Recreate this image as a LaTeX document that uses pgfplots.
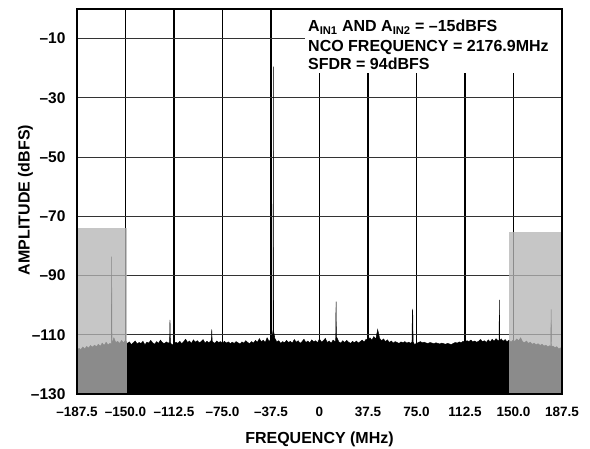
\documentclass[border=0pt]{standalone}
\usepackage{fontspec}
\setmainfont{Liberation Sans}
\usepackage{pgfplots}
\pgfplotsset{compat=1.18}
\begin{document}
\begin{tikzpicture}
\path[use as bounding box] (0,0) rectangle (590pt,448pt);
\begin{axis}[
  at={(77pt,54pt)}, anchor=south west,
  scale only axis, width=485pt, height=385pt,
  xmin=-187.5, xmax=187.5, ymin=-130, ymax=0,
  xtick={-187.5,-150,-112.5,-75,-37.5,0,37.5,75,112.5,150,187.5},
  xticklabels={–187.5,–150.0,–112.5,–75.0,–37.5,0,37.5,75.0,112.5,150.0,187.5},
  ytick={-130,-110,-90,-70,-50,-30,-10},
  yticklabels={–130,–110,–90,–70,–50,–30,–10},
  major tick length=0pt,
  xmajorgrids, ymajorgrids,
  x grid style={black, line width=1.9pt},
  y grid style={black!80, line width=1.1pt},
  axis line style={line width=1.4pt},
  xticklabel style={font=\fontsize{13.5}{16}\selectfont\bfseries, anchor=north, yshift=-10pt},
  yticklabel style={font=\fontsize{15.5}{18}\selectfont\bfseries, anchor=east, xshift=-8pt},
  clip=true,
]
% noise floor and spurs
\addplot[fill=black, draw=black, line width=0.4pt] table {
-187.5 -130
-187.5 -115.2
-186 -114.6
-184.5 -115.0
-183 -114.1
-181.5 -114.8
-180 -113.9
-178.5 -114.5
-177 -113.6
-175.5 -114.2
-174 -113.5
-172.5 -114.0
-171 -113.2
-169.5 -113.9
-168 -112.8
-166.5 -113.6
-165 -112.5
-163.5 -113.4
-162 -112.9
-161.0 -113.0
-160.7 -83.6
-160.4 -113.0
-159 -111.0
-157.5 -112.6
-156 -112.2
-154.5 -112.9
-153 -111.9
-151.5 -112.7
-150 -111.8
-148.5 -113.0
-147 -112.4
-145.5 -113.3
-144 -112.7
-142.5 -112.1
-141 -113.1
-139.5 -112.6
-138 -112.9
-136.5 -112.2
-135 -113.4
-133.5 -112.5
-132 -112.8
-130.5 -111.9
-129 -112.7
-127.5 -113.2
-126 -112.3
-124.5 -112.9
-123 -111.8
-121.5 -112.6
-120 -113.0
-118.5 -112.4
-117 -112.8
-115.9 -112.6
-115.6 -105.0
-115.3 -112.7
-114 -113.4
-112.5 -113.1
-111 -112.5
-109.5 -112.9
-108 -112.2
-106.5 -113.0
-105 -112.3
-103.5 -111.5
-102 -112.6
-100.5 -112.1
-99 -112.9
-97.5 -111.7
-96 -112.5
-94.5 -112.0
-93 -112.7
-91.5 -112.3
-90 -111.6
-88.5 -112.8
-87 -112.2
-85.5 -112.7
-84 -112.0
-83.6 -112.0
-83.3 -108.2
-83.0 -112.0
-82.5 -112.4
-81 -112.9
-79.5 -112.1
-78 -112.6
-76.5 -112.3
-75 -112.9
-73.5 -112.2
-72 -112.8
-70.5 -112.4
-69 -113.0
-67.5 -112.5
-66 -112.9
-64.5 -112.3
-63 -112.7
-61.5 -113.1
-60 -112.4
-58.5 -112.8
-57 -112.0
-55.5 -112.6
-54 -113.0
-52.5 -112.3
-51 -112.8
-49.5 -111.9
-48 -112.5
-46.5 -111.3
-45 -112.4
-43.5 -111.8
-42 -112.6
-40.5 -111.0
-39 -112.2
-37.5 -111.5
-36.5 -110.5
-36.0 -108.6
-35.9 -112.0
-35.7 -19.5
-35.5 -112.0
-35.2 -109.5
-34.5 -111.2
-33 -112.4
-31.5 -112.0
-30 -112.9
-28.5 -112.3
-27 -112.7
-25.5 -111.9
-24 -112.6
-22.5 -112.2
-21 -112.8
-19.5 -111.6
-18 -112.5
-16.5 -112.0
-15 -112.9
-13.5 -112.3
-12 -111.5
-10.5 -112.6
-9 -112.1
-7.5 -112.8
-6 -111.7
-4.5 -112.4
-3 -112.0
-1.5 -112.7
0 -111.4
1.5 -112.5
3 -112.0
4.5 -111.2
6 -112.6
7.5 -112.1
9 -112.8
10.5 -111.8
12 -112.3
12.5 -112.3
12.8 -98.8
13.1 -112.3
13.5 -111.0
15 -112.4
16.5 -112.8
18 -112.0
19.5 -112.6
21 -111.9
22.5 -112.5
24 -112.9
25.5 -112.2
27 -112.7
28.5 -112.1
30 -112.8
31.5 -112.3
33 -111.8
34.5 -112.5
36 -111.5
37.5 -112.0
39 -111.0
40.5 -111.8
42 -110.6
43.5 -111.5
45 -108.2
46.5 -111.2
48 -112.0
49.5 -111.4
51 -112.3
52.5 -111.7
54 -112.6
55.5 -112.1
57 -112.8
58.5 -112.3
60 -112.6
61.5 -112.9
63 -112.4
64.5 -112.7
66 -112.3
67.5 -112.8
69 -112.5
70.5 -112.9
71.5 -112.4
71.8 -101.6
72.1 -102.0
72.4 -112.4
73.5 -113.3
75 -112.9
76.5 -112.6
78 -112.3
79.5 -112.7
81 -112.5
82.5 -112.8
84 -112.9
85.5 -112.6
87 -112.8
88.5 -113.0
90 -112.7
91.5 -112.9
93 -113.1
94.5 -112.8
96 -113.0
97.5 -113.2
99 -112.9
100.5 -113.1
102 -113.3
103.5 -112.9
105 -112.6
106.5 -112.8
108 -112.4
109.5 -112.7
111 -112.2
112.5 -112.5
114 -112.0
115.5 -112.3
117 -111.8
118.5 -112.4
120 -112.1
121.5 -112.5
123 -112.2
124.5 -111.6
126 -112.3
127.5 -112.0
129 -112.6
130.5 -111.7
132 -112.4
133.5 -111.5
135 -112.2
136.5 -111.3
138 -112.0
138.8 -112.0
139.1 -98.2
139.4 -112.0
140.5 -111.4
142 -112.2
143.5 -111.6
145 -112.4
146.5 -111.8
148 -112.5
149.5 -111.9
151 -112.2
152.5 -111.4
154 -112.0
155.5 -111.0
157 -112.3
158.5 -112.7
160 -112.1
161.5 -112.9
163 -112.5
164.5 -113.2
166 -112.8
167.5 -113.4
169 -113.0
170.5 -113.6
172 -113.2
173.5 -113.8
175 -113.5
176.5 -114.0
178 -113.7
178.8 -113.9
179.1 -101.4
179.4 -114.0
180.5 -113.8
182 -114.3
183.5 -114.0
185 -114.8
186.5 -114.4
187.5 -115.0
187.5 -130
};
% shaded out-of-band regions
\addplot[fill=black!29, fill opacity=0.77, draw=none] coordinates {
(-187.5,-130) (-187.5,-74) (-148.5,-74) (-148.5,-130)};
\addplot[fill=black!29, fill opacity=0.77, draw=none] coordinates {
(146.5,-130) (146.5,-75.3) (187.5,-75.3) (187.5,-130)};
\end{axis}
% annotation box
\fill[white] (305pt,375pt) rectangle (562pt,439pt);
\node[anchor=base west, inner sep=0pt, font=\fontsize{16}{19}\selectfont\bfseries] at (308pt,416.3pt) {A\textsubscript{IN1} AND A\textsubscript{IN2} = –15dBFS};
\node[anchor=base west, inner sep=0pt, font=\fontsize{16}{19}\selectfont\bfseries] at (308pt,396.3pt) {NCO FREQUENCY = 2176.9MHz};
\node[anchor=base west, inner sep=0pt, font=\fontsize{16}{19}\selectfont\bfseries] at (308pt,378pt) {SFDR = 94dBFS};
% frame
\draw[line width=1.4pt] (77pt,54pt) rectangle (562pt,439pt);
% axis labels
\node[rotate=90, font=\fontsize{16}{19}\selectfont\bfseries] at (25.5pt,248pt) {AMPLITUDE (dBFS)};
\node[font=\fontsize{16}{19}\selectfont\bfseries] at (319.5pt,8.5pt) {FREQUENCY (MHz)};
\end{tikzpicture}
\end{document}
